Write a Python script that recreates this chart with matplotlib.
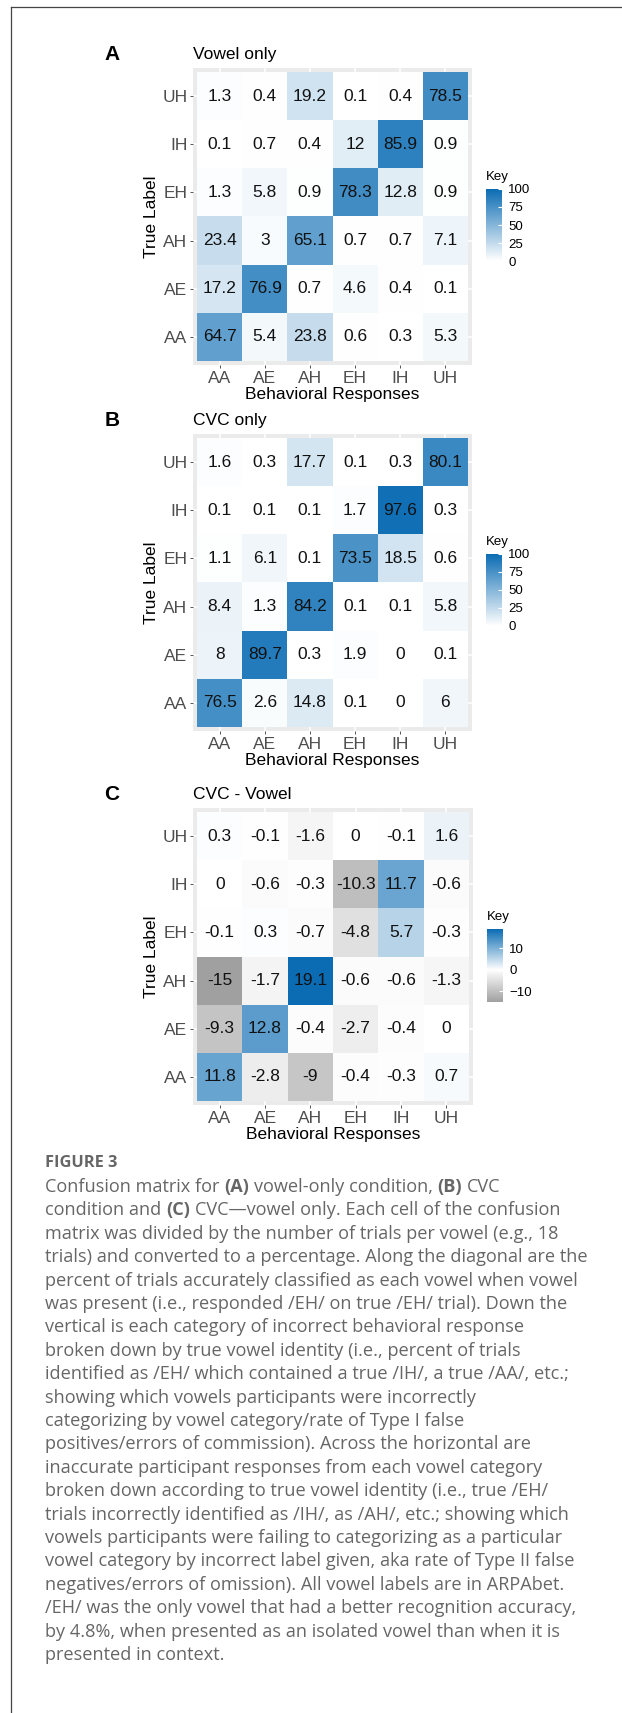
# -*- coding: utf-8 -*-
import numpy as np
import matplotlib
matplotlib.use('Agg')
import matplotlib.pyplot as plt
from matplotlib.colors import LinearSegmentedColormap, Normalize
from matplotlib.cm import ScalarMappable
from matplotlib.lines import Line2D

plt.rcParams['font.family'] = ['Liberation Sans', 'DejaVu Sans']

# Category labels (x = behavioral response, y = true label, AA at the bottom)
vowels = ['AA', 'AE', 'AH', 'EH', 'IH', 'UH']

# rows: true label AA, AE, AH, EH, IH, UH ; columns: responses AA .. UH
vowel_only = [
    [64.7, 5.4, 23.8, 0.6, 0.3, 5.3],
    [17.2, 76.9, 0.7, 4.6, 0.4, 0.1],
    [23.4, 3, 65.1, 0.7, 0.7, 7.1],
    [1.3, 5.8, 0.9, 78.3, 12.8, 0.9],
    [0.1, 0.7, 0.4, 12, 85.9, 0.9],
    [1.3, 0.4, 19.2, 0.1, 0.4, 78.5],
]

cvc_only = [
    [76.5, 2.6, 14.8, 0.1, 0, 6],
    [8, 89.7, 0.3, 1.9, 0, 0.1],
    [8.4, 1.3, 84.2, 0.1, 0.1, 5.8],
    [1.1, 6.1, 0.1, 73.5, 18.5, 0.6],
    [0.1, 0.1, 0.1, 1.7, 97.6, 0.3],
    [1.6, 0.3, 17.7, 0.1, 0.3, 80.1],
]

cvc_minus_vowel = [
    [11.8, -2.8, -9, -0.4, -0.3, 0.7],
    [-9.3, 12.8, -0.4, -2.7, -0.4, 0],
    [-15, -1.7, 19.1, -0.6, -0.6, -1.3],
    [-0.1, 0.3, -0.7, -4.8, 5.7, -0.3],
    [0, -0.6, -0.3, -10.3, 11.7, -0.6],
    [0.3, -0.1, -1.6, 0, -0.1, 1.6],
]

panel_letters = ['A', 'B', 'C']
panel_titles = ['Vowel only', 'CVC only', 'CVC - Vowel']
pct_limits = [0, 100]
pct_ticks = [0, 25, 50, 75, 100]
diff_limits = [-15, 19.1]
diff_ticks = [-10, 0, 10]

caption_head = 'FIGURE 3'
caption_lines = [
    "Confusion matrix for **(A)** vowel-only condition, **(B)** CVC",
    "condition and **(C)** CVC\u2014vowel only. Each cell of the confusion",
    "matrix was divided by the number of trials per vowel (e.g., 18",
    "trials) and converted to a percentage. Along the diagonal are the",
    "percent of trials accurately classified as each vowel when vowel",
    "was present (i.e., responded /EH/ on true /EH/ trial). Down the",
    "vertical is each category of incorrect behavioral response",
    "broken down by true vowel identity (i.e., percent of trials",
    "identified as /EH/ which contained a true /IH/, a true /AA/, etc.;",
    "showing which vowels participants were incorrectly",
    "categorizing by vowel category/rate of Type I false",
    "positives/errors of commission). Across the horizontal are",
    "inaccurate participant responses from each vowel category",
    "broken down according to true vowel identity (i.e., true /EH/",
    "trials incorrectly identified as /IH/, as /AH/, etc.; showing which",
    "vowels participants were failing to categorizing as a particular",
    "vowel category by incorrect label given, aka rate of Type II false",
    "negatives/errors of omission). All vowel labels are in ARPAbet.",
    "/EH/ was the only vowel that had a better recognition accuracy,",
    "by 4.8%, when presented as an isolated vowel than when it is",
    "presented in context.",
]

W, H = 622, 1713
fig = plt.figure(figsize=(W / 100, H / 100), dpi=100)
fig.patch.set_facecolor('white')


def fx(x):
    return x / W


def fy(y):
    return 1 - y / H


def box(x0, y0, x1, y1):
    return [x0 / W, 1 - y1 / H, (x1 - x0) / W, (y1 - y0) / H]


blue = '#0b6cb3'
pct_cmap = LinearSegmentedColormap.from_list('pct', ['white', blue])
mid = -diff_limits[0] / (diff_limits[1] - diff_limits[0])
diff_cmap = LinearSegmentedColormap.from_list(
    'diff', [(0, '#a0a0a0'), (mid, 'white'), (1, blue)])


def draw_panel(data, bg, cbar_box, key_y, letter, title, cmap, norm, ticks):
    data = np.array(data)
    n = len(vowels)
    ax = fig.add_axes(box(*bg))
    ax.set_facecolor('#ebebeb')
    edges = np.arange(n + 1) - 0.5
    ax.pcolormesh(edges, edges, data, cmap=cmap, norm=norm, zorder=1)
    for i in range(n):
        for j in range(n):
            ax.text(j, i, '%g' % data[i, j], ha='center', va='center',
                    fontsize=12.5, color='#111111', zorder=2)
    ax.set_xticks(range(n))
    ax.set_xticklabels(vowels)
    ax.set_yticks(range(n))
    ax.set_yticklabels(vowels)
    ax.set_xlim(-0.59, n - 0.41)
    ax.set_ylim(-0.585, n - 0.415)
    ax.grid(True, color='white', lw=1.1)
    ax.set_axisbelow(True)
    for s in ax.spines.values():
        s.set_visible(False)
    ax.tick_params(length=2.5, width=0.7, color='#555555', labelsize=12.5,
                   labelcolor='#4d4d4d', pad=1.5)

    x0, y0, x1, y1 = bg
    fig.text(fx(112), fy(y0 - 14), letter, fontsize=15, fontweight='bold',
             ha='center', va='center')
    fig.text(fx(x0), fy(y0 - 14), title, fontsize=12.5, ha='left', va='center')
    fig.text(fx((x0 + x1) / 2), fy(y1 + 30), 'Behavioral Responses',
             fontsize=12.5, ha='center', va='center')
    fig.text(fx(152), fy((y0 + y1) / 2), 'True Label', fontsize=12.5,
             rotation=90, ha='center', va='center')

    # colour key
    cax = fig.add_axes(box(*cbar_box))
    cb = fig.colorbar(ScalarMappable(norm=norm, cmap=cmap), cax=cax, ticks=ticks)
    cb.outline.set_visible(False)
    cax.tick_params(length=3, width=0.8, color='white', direction='in',
                    labelsize=9.5, pad=4.5)
    fig.text(fx(cbar_box[0]), fy(key_y), 'Key', fontsize=9.5, ha='left', va='center')


draw_panel(vowel_only, (193, 68, 472, 365), (486, 189, 502, 261), 177,
           panel_letters[0], panel_titles[0], pct_cmap, Normalize(*pct_limits), pct_ticks)
draw_panel(cvc_only, (193, 434, 472, 731), (486, 554, 502, 626), 542,
           panel_letters[1], panel_titles[1], pct_cmap, Normalize(*pct_limits), pct_ticks)
draw_panel(cvc_minus_vowel, (193, 808, 473, 1105), (487, 929, 503, 1002), 917,
           panel_letters[2], panel_titles[2], diff_cmap, Normalize(*diff_limits), diff_ticks)

# frame lines (left and top)
fig.add_artist(Line2D([fx(11), fx(11)], [0, fy(7)], color='#444444', lw=0.9))
fig.add_artist(Line2D([fx(11), 1], [fy(7), fy(7)], color='#444444', lw=0.9))

# caption
cap_font = 'Open Sans'
cap_color = '#666666'
renderer = fig.canvas.get_renderer()


def text_width(s, size, weight='normal'):
    t = fig.text(0, 0, s, fontsize=size, fontweight=weight, family=cap_font)
    w = t.get_window_extent(renderer).width
    t.remove()
    return w


cap_size = 10 * 543 / text_width(caption_lines[3], 10)
space_w = text_width('x x', cap_size) - text_width('xx', cap_size)

fig.text(fx(45), fy(1163), caption_head, fontsize=cap_size * 0.9,
         fontweight='bold', family=cap_font, color=cap_color, ha='left', va='center')

for k, line in enumerate(caption_lines):
    y = fy(1187 + 5 + k * 23.4)
    x = 45
    for idx, part in enumerate(line.split('**')):
        weight = 'bold' if idx % 2 else 'normal'
        lead = len(part) - len(part.lstrip(' '))
        trail = len(part) - len(part.rstrip(' '))
        core = part.strip(' ')
        x += lead * space_w
        if core:
            t = fig.text(fx(x), y, core, fontsize=cap_size, fontweight=weight,
                         family=cap_font, color=cap_color, ha='left', va='baseline')
            x += t.get_window_extent(renderer).width
        x += trail * space_w

fig.savefig('out.png', dpi=100)
